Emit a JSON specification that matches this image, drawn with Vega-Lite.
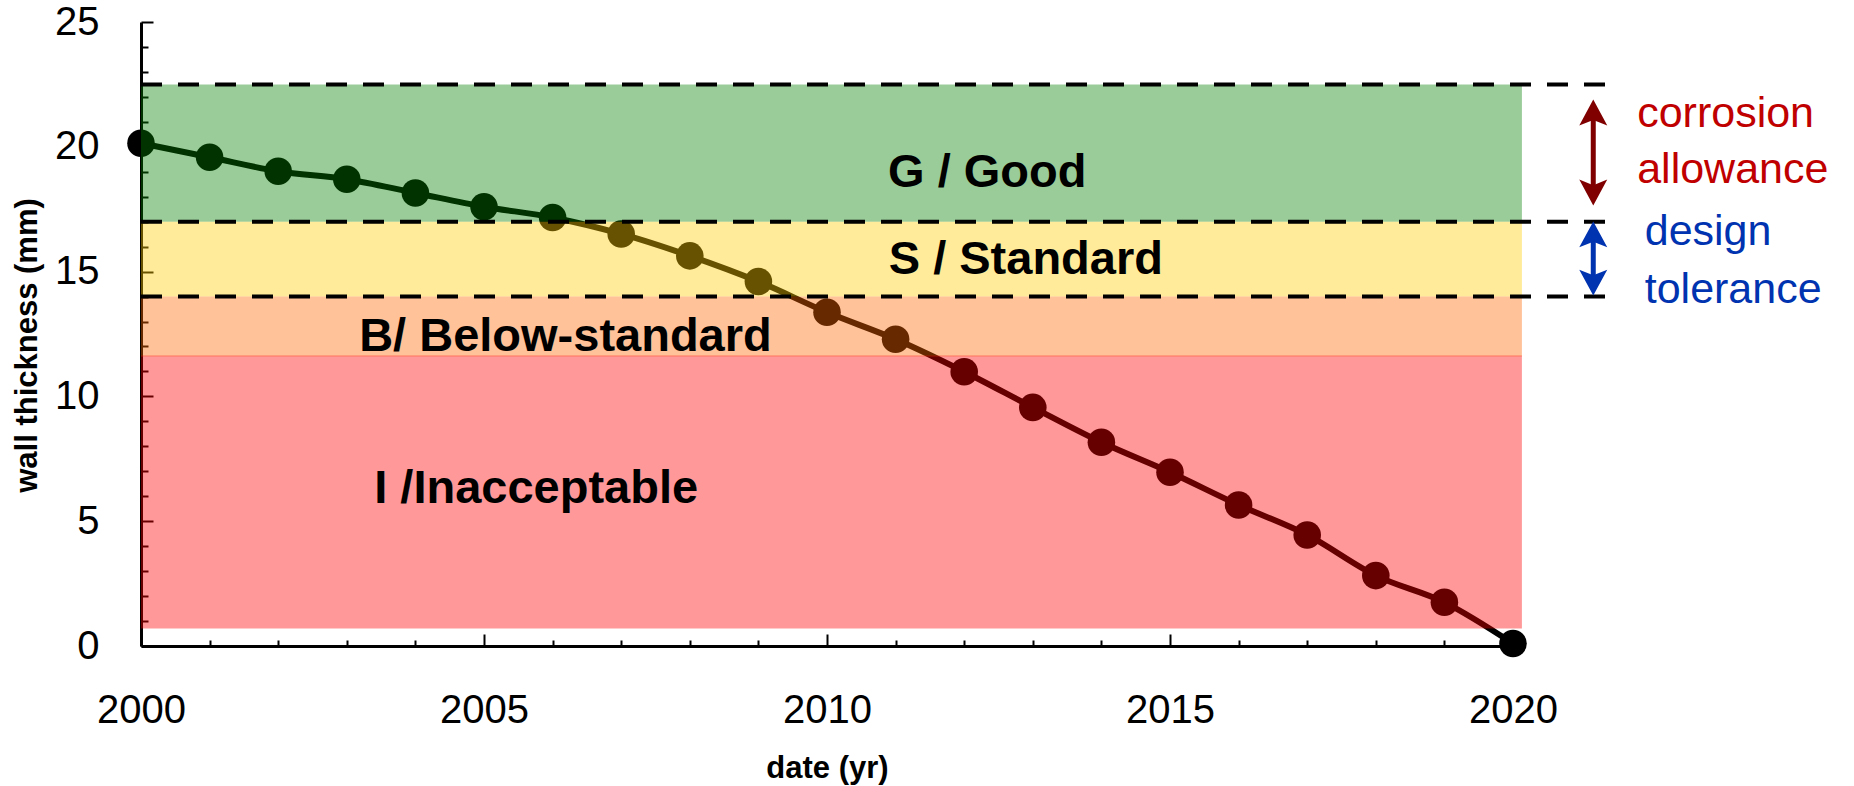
{
  "$schema": "https://vega.github.io/schema/vega-lite/v6.json",
  "width": 1372,
  "height": 624,
  "autosize": {"type": "none"},
  "padding": {"left": 141, "top": 22, "right": 341, "bottom": 140},
  "background": "white",
  "config": {
    "view": {"stroke": null},
    "font": "Liberation Sans",
    "axis": {"labelFont": "Liberation Sans", "titleFont": "Liberation Sans", "labelOverlap": false}
  },
  "datasets": {
    "series": [
      {"year": 2000, "thickness": 20.14},
      {"year": 2001, "thickness": 19.58},
      {"year": 2002, "thickness": 19.02},
      {"year": 2003, "thickness": 18.70},
      {"year": 2004, "thickness": 18.15},
      {"year": 2005, "thickness": 17.60},
      {"year": 2006, "thickness": 17.17},
      {"year": 2007, "thickness": 16.51},
      {"year": 2008, "thickness": 15.63},
      {"year": 2009, "thickness": 14.60},
      {"year": 2010, "thickness": 13.37},
      {"year": 2011, "thickness": 12.29},
      {"year": 2012, "thickness": 10.99},
      {"year": 2013, "thickness": 9.56},
      {"year": 2014, "thickness": 8.16},
      {"year": 2015, "thickness": 6.96},
      {"year": 2016, "thickness": 5.65},
      {"year": 2017, "thickness": 4.45},
      {"year": 2018, "thickness": 2.82},
      {"year": 2019, "thickness": 1.75},
      {"year": 2020, "thickness": 0.1}
    ],
    "bands": [
      {"band": "Good", "x0": 2000, "x1": 2020.13, "lo": 17, "hi": 22.5},
      {"band": "Standard", "x0": 2000, "x1": 2020.13, "lo": 14, "hi": 17},
      {"band": "Below-standard", "x0": 2000, "x1": 2020.13, "lo": 11.6, "hi": 14},
      {"band": "Inacceptable", "x0": 2000, "x1": 2020.13, "lo": 0.7, "hi": 11.64}
    ],
    "limits": [
      {"limit": 22.5, "x0": 2000, "x1": 2021.55},
      {"limit": 17, "x0": 2000, "x1": 2021.55},
      {"limit": 14, "x0": 2000, "x1": 2021.55}
    ],
    "bandLabels": [
      {"label": "G / Good", "x": 2010.89, "y": 18.4},
      {"label": "S / Standard", "x": 2010.9, "y": 14.89},
      {"label": "B/ Below-standard", "x": 2003.18, "y": 11.83},
      {"label": "I /Inacceptable", "x": 2003.4, "y": 5.72}
    ],
    "arrows": [
      {"kind": "corrosion", "x": 2021.17, "top": 21.87, "bottom": 17.67, "topHead": 21.33, "bottomHead": 18.21},
      {"kind": "design", "x": 2021.17, "top": 16.99, "bottom": 14.06, "topHead": 16.45, "bottomHead": 14.6}
    ],
    "notes": [
      {"kind": "corrosion", "text": "corrosion", "x": 2021.81, "y": 20.79},
      {"kind": "corrosion", "text": "allowance", "x": 2021.81, "y": 18.53},
      {"kind": "design", "text": "design", "x": 2021.92, "y": 16.07},
      {"kind": "design", "text": "tolerance", "x": 2021.92, "y": 13.73}
    ]
  },
  "layer": [
    {
      "data": {"name": "series"},
      "mark": {"type": "line", "color": "black", "strokeWidth": 6, "interpolate": "monotone", "clip": false},
      "encoding": {
        "x": {
          "field": "year", "type": "quantitative",
          "scale": {"domain": [2000, 2020], "nice": false, "zero": false},
          "axis": {
            "orient": "bottom",
            "values": [2000, 2005, 2010, 2015, 2020],
            "format": "d",
            "labelOverlap": false,
            "labelFlush": false,
            "labelFontSize": 40,
            "labelColor": "black",
            "labelBaseline": "alphabetic",
            "labelPadding": 88,
            "grid": false,
            "domainColor": "black",
            "domainWidth": 3,
            "tickColor": "black",
            "tickWidth": 2,
            "tickSize": -12,
            "title": "date (yr)",
            "titleFontSize": 31,
            "titleFontWeight": "bold",
            "titleColor": "black",
            "titleBaseline": "alphabetic",
            "titleY": 131
          }
        },
        "y": {
          "field": "thickness", "type": "quantitative",
          "scale": {"domain": [0, 25], "nice": false},
          "axis": {
            "orient": "left",
            "values": [0, 5, 10, 15, 20, 25],
            "labelOverlap": false,
            "labelFlush": false,
            "labelFontSize": 40,
            "labelColor": "black",
            "labelPadding": 54,
            "grid": false,
            "domainColor": "black",
            "domainWidth": 3,
            "tickColor": "black",
            "tickWidth": 2,
            "tickSize": -12,
            "title": "wall thickness (mm)",
            "titleFontSize": 31,
            "titleFontWeight": "bold",
            "titleColor": "black",
            "titleBaseline": "bottom",
            "titleX": -98,
            "titleY": 323
          }
        }
      }
    },
    {
      "data": {"name": "series"},
      "mark": {"type": "circle", "color": "black", "opacity": 1, "size": 760, "clip": false},
      "encoding": {
        "x": {
          "field": "year", "type": "quantitative",
          "axis": {
            "orient": "bottom",
            "values": [2001,2002,2003,2004,2006,2007,2008,2009,2011,2012,2013,2014,2016,2017,2018,2019],
            "labels": false, "domain": false, "grid": false, "title": null,
            "tickColor": "black", "tickWidth": 2, "tickSize": -6
          }
        },
        "y": {
          "field": "thickness", "type": "quantitative",
          "axis": {
            "orient": "left",
            "values": [1,2,3,4,6,7,8,9,11,12,13,14,16,17,18,19,21,22,23,24],
            "labels": false, "domain": false, "grid": false, "title": null,
            "tickColor": "black", "tickWidth": 2, "tickSize": -7
          }
        }
      }
    },
    {
      "data": {"name": "bands"},
      "mark": {"type": "rect", "fillOpacity": 0.4, "strokeWidth": 0},
      "encoding": {
        "x": {"field": "x0", "type": "quantitative", "axis": null},
        "x2": {"field": "x1"},
        "y": {"field": "lo", "type": "quantitative", "axis": null},
        "y2": {"field": "hi"},
        "fill": {
          "field": "band", "type": "nominal", "legend": null,
          "scale": {"domain": ["Good", "Standard", "Below-standard", "Inacceptable"], "range": ["#008000", "#FFCC00", "#FF6600", "#FF0000"]}
        }
      }
    },
    {
      "data": {"name": "limits"},
      "mark": {"type": "rule", "color": "black", "strokeWidth": 4, "strokeDash": [21, 16], "clip": false},
      "encoding": {
        "x": {"field": "x0", "type": "quantitative", "axis": null},
        "x2": {"field": "x1"},
        "y": {"field": "limit", "type": "quantitative", "axis": null}
      }
    },
    {
      "data": {"name": "arrows"},
      "mark": {"type": "rule", "strokeWidth": 5, "clip": false},
      "encoding": {
        "x": {"field": "x", "type": "quantitative", "axis": null},
        "y": {"field": "topHead", "type": "quantitative", "axis": null},
        "y2": {"field": "bottomHead"},
        "stroke": {
          "field": "kind", "type": "nominal", "legend": null,
          "scale": {"domain": ["corrosion", "design"], "range": ["#800000", "#0033B0"]}
        }
      }
    },
    {
      "data": {"name": "arrows"},
      "mark": {"type": "point", "filled": true, "size": 784, "opacity": 1, "strokeWidth": 0, "clip": false,
               "shape": "M0,-1 L1,0.85 L0,0.45 L-1,0.85 Z"},
      "encoding": {
        "x": {"field": "x", "type": "quantitative", "axis": null},
        "y": {"field": "topHead", "type": "quantitative", "axis": null},
        "fill": {
          "field": "kind", "type": "nominal", "legend": null,
          "scale": {"domain": ["corrosion", "design"], "range": ["#800000", "#0033B0"]}
        }
      }
    },
    {
      "data": {"name": "arrows"},
      "mark": {"type": "point", "filled": true, "size": 784, "opacity": 1, "strokeWidth": 0, "clip": false,
               "shape": "M0,1 L1,-0.85 L0,-0.45 L-1,-0.85 Z"},
      "encoding": {
        "x": {"field": "x", "type": "quantitative", "axis": null},
        "y": {"field": "bottomHead", "type": "quantitative", "axis": null},
        "fill": {
          "field": "kind", "type": "nominal", "legend": null,
          "scale": {"domain": ["corrosion", "design"], "range": ["#800000", "#0033B0"]}
        }
      }
    },
    {
      "data": {"name": "bandLabels"},
      "mark": {"type": "text", "font": "Liberation Sans", "fontWeight": "bold", "fontSize": 47, "align": "left", "baseline": "alphabetic", "color": "black"},
      "encoding": {
        "x": {"field": "x", "type": "quantitative", "axis": null},
        "y": {"field": "y", "type": "quantitative", "axis": null},
        "text": {"field": "label"}
      }
    },
    {
      "data": {"name": "notes"},
      "mark": {"type": "text", "font": "Liberation Sans", "fontSize": 43, "align": "left", "baseline": "alphabetic", "clip": false},
      "encoding": {
        "x": {"field": "x", "type": "quantitative", "axis": null},
        "y": {"field": "y", "type": "quantitative", "axis": null},
        "text": {"field": "text"},
        "color": {
          "field": "kind", "type": "nominal", "legend": null,
          "scale": {"domain": ["corrosion", "design"], "range": ["#C00000", "#0033B0"]}
        }
      }
    }
  ],
  "resolve": {
    "scale": {"fill": "independent", "stroke": "independent", "color": "independent"},
    "axis": {"x": "independent", "y": "independent"}
  }
}
